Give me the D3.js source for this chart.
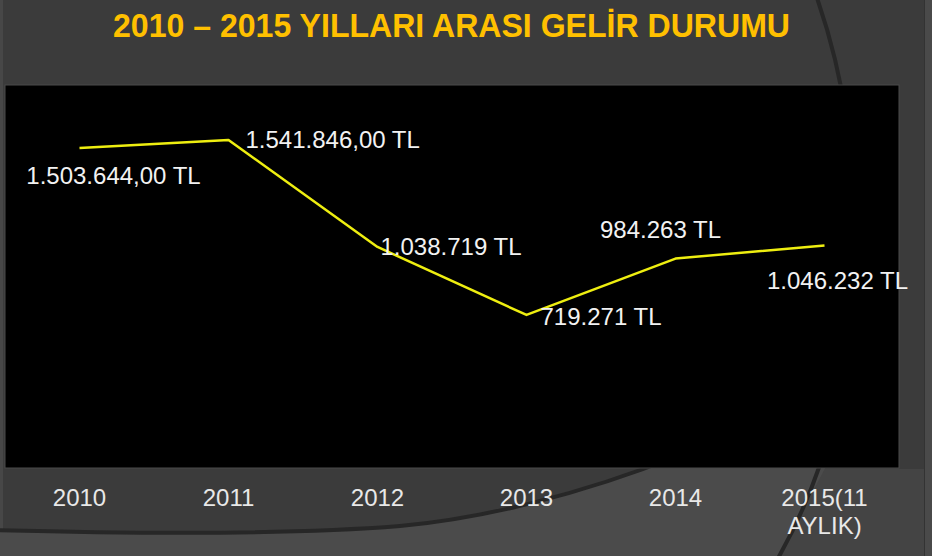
<!DOCTYPE html>
<html>
<head>
<meta charset="utf-8">
<script src="https://cdn.jsdelivr.net/npm/d3@7"></script>
<style>
  html, body { margin: 0; padding: 0; background: #3b3b3b; }
  svg { display: block; }
</style>
</head>
<body>
<svg id="chart" width="932" height="556"></svg>
<script>
// ---- data ----
const title = "2010 – 2015 YILLARI ARASI GELİR DURUMU";
const categories = ["2010", "2011", "2012", "2013", "2014", "2015(11 AYLIK)"];
const values = [1503644, 1541846, 1038719, 719271, 984263, 1046232];
const valueLabels = ["1.503.644,00 TL", "1.541.846,00 TL", "1.038.719 TL", "719.271 TL", "984.263 TL", "1.046.232 TL"];
const yMax = 1800000;

// ---- layout ----
const W = 932, H = 556;
const plot = { x: 5, y: 85, w: 894, h: 383 };
const svg = d3.select("#chart");

// background decoration
svg.append("rect").attr("width", W).attr("height", H).attr("fill", "#3b3b3b");
svg.append("rect").attr("x", 0).attr("y", 0).attr("width", 3).attr("height", H).attr("fill", "#474747");
// lower region right of arc
svg.append("path")
  .attr("d", "M818,469 L935,469 L935,560 L770,560 Z")
  .attr("fill", "#444444");
// lower lighter region (below curve, left of arc)
svg.append("path")
  .attr("d", "M-5,530 C150,534 300,534 400,526 C480,519 580,495 680,455 L832,455 L777,560 L-5,560 Z")
  .attr("fill", "#4b4b4b");
// dark curve lines
svg.append("path")
  .attr("d", "M-5,530 C150,534 300,534 400,526 C480,519 580,495 680,455")
  .attr("fill", "none").attr("stroke", "#272727").attr("stroke-width", 4);
svg.append("path")
  .attr("d", "M817,-2 C870,150 880,380 777,560")
  .attr("fill", "none").attr("stroke", "#272727").attr("stroke-width", 4);
// right strip
svg.append("rect").attr("x", 924).attr("y", 0).attr("width", 1).attr("height", H).attr("fill", "#333");
svg.append("rect").attr("x", 925).attr("y", 0).attr("width", 7).attr("height", H).attr("fill", "#4a4a4a");

// title
svg.append("text")
  .attr("x", 451.5).attr("y", 37)
  .attr("text-anchor", "middle")
  .attr("font-family", "Liberation Sans, Arial, sans-serif")
  .attr("font-weight", "bold")
  .attr("font-size", 33)
  .attr("fill", "#FFC000")
  .attr("textLength", 677)
  .attr("lengthAdjust", "spacingAndGlyphs")
  .text(title);

// plot area
svg.append("rect")
  .attr("x", plot.x).attr("y", plot.y).attr("width", plot.w).attr("height", plot.h)
  .attr("fill", "#000").attr("stroke", "#4a4a4a").attr("stroke-width", 1);

// scales
const x = d3.scaleBand().domain(categories).range([plot.x, plot.x + plot.w]);
const y = d3.scaleLinear().domain([0, yMax]).range([plot.y + plot.h, plot.y]);
const cx = c => x(c) + x.bandwidth() / 2;

// line
const line = d3.line().x((d, i) => cx(categories[i])).y(d => y(d));
svg.append("path")
  .datum(values)
  .attr("d", line)
  .attr("fill", "none")
  .attr("stroke", "#eeee10")
  .attr("stroke-width", 2.5)
  .attr("stroke-linejoin", "round");

// value label placement (style, not data)
const place = [
  { a: "middle", dx: 34, dy: 28 },
  { a: "start", dx: 17, dy: 0 },
  { a: "start", dx: 3, dy: 0 },
  { a: "start", dx: 14, dy: 2 },
  { a: "middle", dx: -15, dy: -29 },
  { a: "middle", dx: 13, dy: 35 }
];
svg.append("g").selectAll("text")
  .data(values)
  .join("text")
  .attr("x", (d, i) => cx(categories[i]) + place[i].dx)
  .attr("y", (d, i) => y(d) + place[i].dy)
  .attr("dy", "0.35em")
  .attr("text-anchor", (d, i) => place[i].a)
  .attr("font-family", "Liberation Sans, Arial, sans-serif")
  .attr("font-size", 24)
  .attr("fill", "#f2f2f2")
  .text((d, i) => valueLabels[i]);

// x axis
const axis = svg.append("g")
  .attr("transform", `translate(0,${plot.y + plot.h})`)
  .call(d3.axisBottom(x).tickSize(0).tickPadding(0));
axis.select(".domain").remove();
axis.selectAll("text").each(function(d) {
  const t = d3.select(this);
  t.text(null).attr("y", 0).attr("dy", null)
    .attr("font-family", "Liberation Sans, Arial, sans-serif")
    .attr("font-size", 24)
    .attr("fill", "#e8e8e8");
  d.split(" ").forEach((part, k) => {
    t.append("tspan").attr("x", 0).attr("y", 38 + k * 28).text(part);
  });
});
</script>
</body>
</html>
